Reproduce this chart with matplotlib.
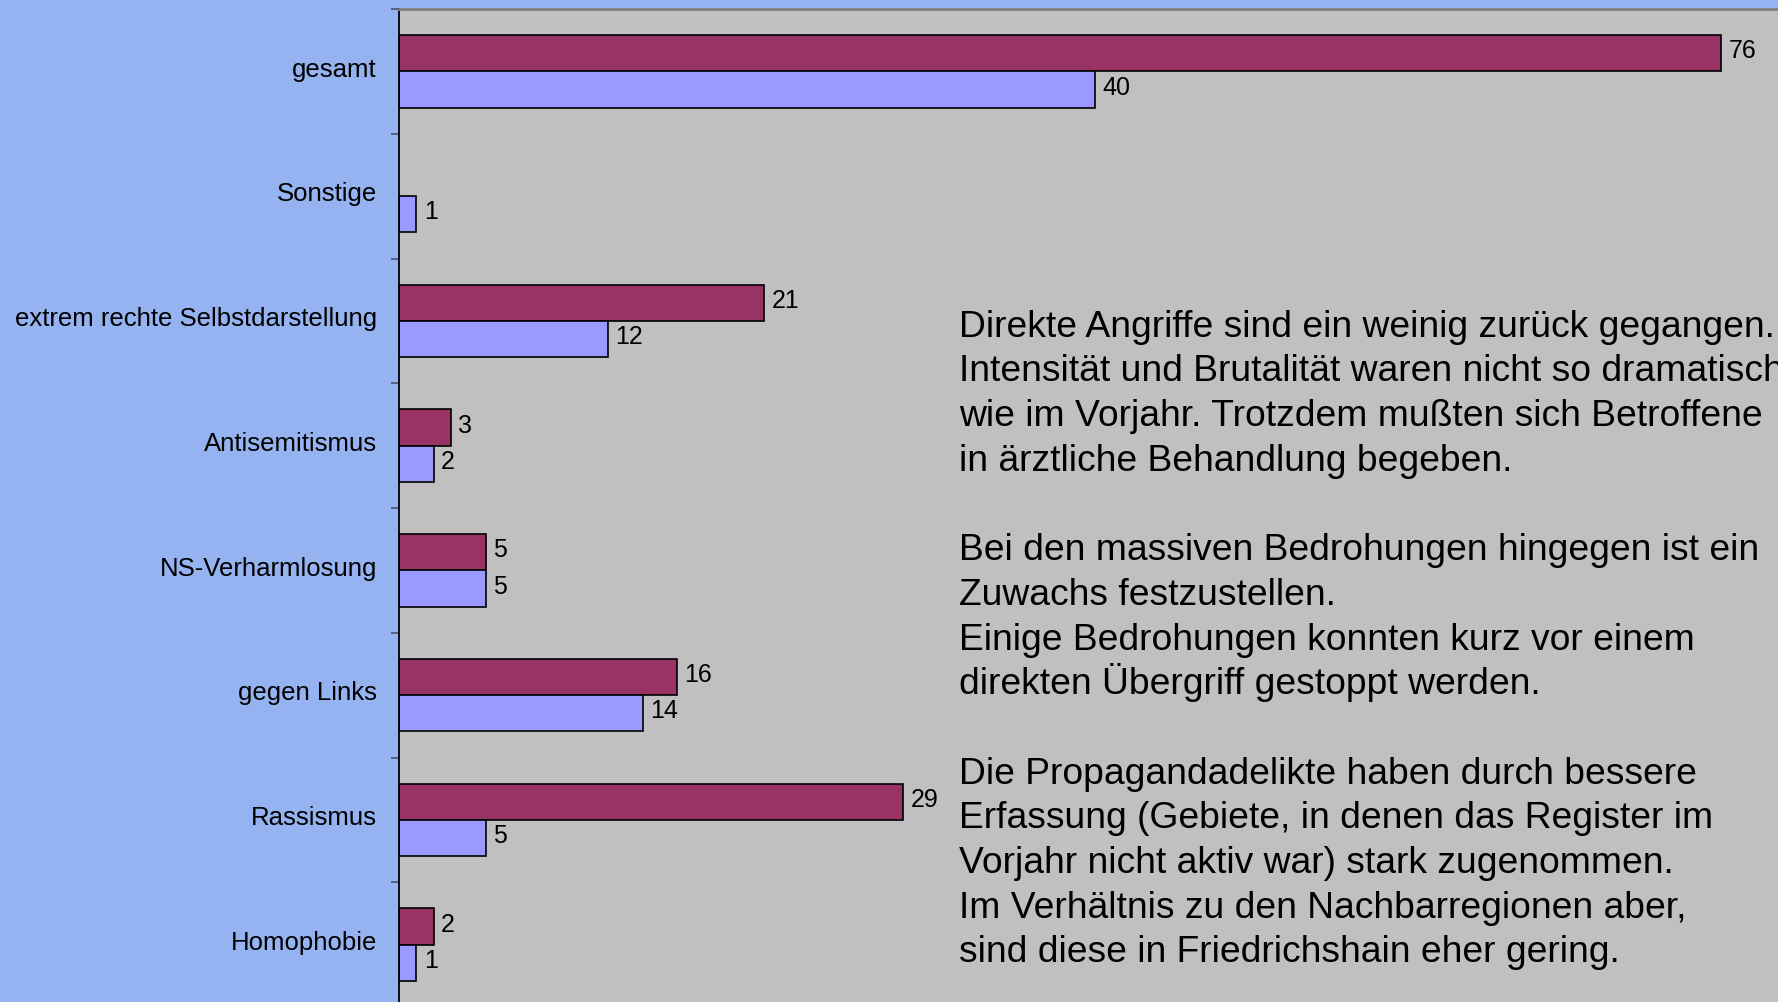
import numpy as np
import matplotlib
matplotlib.use("Agg")
import matplotlib.pyplot as plt
from matplotlib.transforms import ScaledTranslation

categories = ["gesamt", "Sonstige", "extrem rechte Selbstdarstellung", "Antisemitismus",
              "NS-Verharmlosung", "gegen Links", "Rassismus", "Homophobie"]
series_a = [76, None, 21, 3, 5, 16, 29, 2]   # maroon (upper bar)
series_b = [40, 1, 12, 2, 5, 14, 5, 1]       # blue (lower bar)

note_lines = [
    "Direkte Angriffe sind ein weinig zurück gegangen.",
    "Intensität und Brutalität waren nicht so dramatisch",
    "wie im Vorjahr. Trotzdem mußten sich Betroffene",
    "in ärztliche Behandlung begeben.",
    "",
    "Bei den massiven Bedrohungen hingegen ist ein",
    "Zuwachs festzustellen.",
    "Einige Bedrohungen konnten kurz vor einem",
    "direkten Übergriff gestoppt werden.",
    "",
    "Die Propagandadelikte haben durch bessere",
    "Erfassung (Gebiete, in denen das Register im",
    "Vorjahr nicht aktiv war) stark zugenommen.",
    "Im Verhältnis zu den Nachbarregionen aber,",
    "sind diese in Friedrichshain eher gering.",
]

plt.rcParams["font.family"] = ["Liberation Sans", "DejaVu Sans"]

W, H = 1778, 1002
fig = plt.figure(figsize=(W / 100, H / 100), dpi=100)
fig.patch.set_facecolor("#95B3F0")

unit = (1721 - 399) / 76.0
xmax = 80
ax = fig.add_axes([399 / W, -0.005, xmax * unit / W, 0.996])
ax.set_facecolor("#C0C0C0")

y = np.arange(len(categories))
h = 0.29
for i, (a, b) in enumerate(zip(series_a, series_b)):
    if a is not None:
        ax.barh(y[i] - h / 2, a, height=h, color="#993366", edgecolor="black", linewidth=1.2)
        ax.text(a + 0.42, y[i] - h / 2 - 0.015, str(a), va="center", ha="left", fontsize=18)
    if b is not None:
        ax.barh(y[i] + h / 2, b, height=h, color="#9999FF", edgecolor="black", linewidth=1.2)
        ax.text(b + 0.42, y[i] + h / 2 - 0.015, str(b), va="center", ha="left", fontsize=18)

ax.set_xlim(0, xmax)
ax.set_ylim(len(categories) - 0.5, -0.5)
ax.set_xticks([])
ax.set_yticks(y)
ax.set_yticklabels(categories, fontsize=18.5)
ax.tick_params(axis="y", which="major", length=0, pad=16)
for lab in ax.get_yticklabels():
    lab.set_transform(lab.get_transform() + ScaledTranslation(0, 3 / 72, fig.dpi_scale_trans))
ax.set_yticks(np.arange(-0.5, len(categories), 1.0), minor=True)
ax.tick_params(axis="y", which="minor", length=6, width=1.2, color="#505070")

ax.spines["left"].set_color("black")
ax.spines["left"].set_linewidth(1.3)
ax.spines["top"].set_color("#808080")
ax.spines["top"].set_linewidth(2)
ax.spines["right"].set_visible(False)
ax.spines["bottom"].set_visible(False)

x0 = 959 / W
base0 = 336.7
step = 44.7
for k, line in enumerate(note_lines):
    if line:
        fig.text(x0, 1 - (base0 + k * step) / H, line, ha="left", va="baseline", fontsize=26.8)

fig.savefig("out.png", dpi=100, facecolor=fig.get_facecolor())
